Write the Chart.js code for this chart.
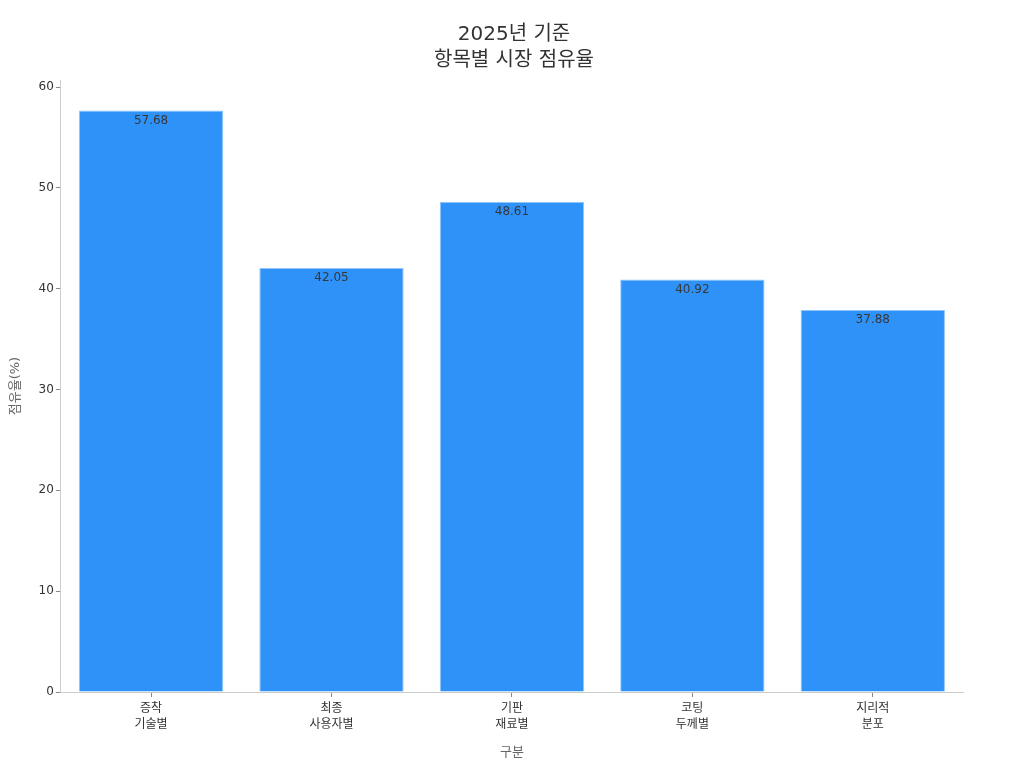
<!DOCTYPE html>
<html lang="ko">
<head>
<meta charset="UTF-8">
<title>항목별 시장 점유율</title>
<style>
  html, body { margin: 0; padding: 0; background: #fff; }
  #wrap { width: 1024px; height: 768px; }
</style>
</head>
<body>
<div id="wrap"><canvas id="myChart"></canvas></div>
<script src="https://cdn.jsdelivr.net/npm/chart.js"></script>
<script>
const categories = [['증착', '기술별'], ['최종', '사용자별'], ['기판', '재료별'], ['코팅', '두께별'], ['지리적', '분포']]
const shares = [57.68, 42.05, 48.61, 40.92, 37.88]
const yTicks = [0, 10, 20, 30, 40, 50, 60]

const fontFamily = "'DejaVu Sans', 'Noto Sans CJK KR', sans-serif"

// value labels just inside the top of each bar
const barLabels = {
  id: 'barLabels',
  afterDatasetsDraw(chart) {
    const ctx = chart.ctx
    const meta = chart.getDatasetMeta(0)
    ctx.save()
    ctx.font = '12px ' + fontFamily
    ctx.fillStyle = '#383838'
    ctx.textAlign = 'center'
    ctx.textBaseline = 'top'
    meta.data.forEach((bar, i) => {
      ctx.fillText(shares[i].toFixed(2), bar.x, bar.y + 4)
    })
    ctx.restore()
  }
}

new Chart(document.querySelector('#myChart'), {
  type: 'bar',
  data: {
    labels: categories,
    datasets: [{
      data: shares,
      backgroundColor: '#2f92f8',
      borderColor: '#8fc5fb',
      borderWidth: 1,
      barPercentage: 0.8,
      categoryPercentage: 1.0
    }]
  },
  options: {
    responsive: true,
    maintainAspectRatio: false,
    animation: false,
    layout: { padding: { left: 4, right: 0, top: 12, bottom: 4 } },
    plugins: {
      legend: { display: false },
      tooltip: { enabled: false },
      title: {
        display: true,
        text: ['2025년 기준', '항목별 시장 점유율'],
        color: '#333',
        font: { family: fontFamily, size: 20, weight: 'normal', lineHeight: 1.3 },
        padding: { top: 10, bottom: 6 }
      }
    },
    scales: {
      x: {
        border: { color: '#ccc' },
        grid: { display: true, offset: false, drawOnChartArea: false, drawTicks: true, tickLength: 5, color: '#888' },
        ticks: { color: '#333', font: { family: fontFamily, size: 12, lineHeight: 1.35 }, padding: 4 },
        title: {
          display: true, text: '구분', color: '#666',
          font: { family: fontFamily, size: 13 }, padding: { top: 7 }
        }
      },
      y: {
        min: 0,
        max: 60.7,
        afterBuildTicks: axis => { axis.ticks = yTicks.map(v => ({ value: v })) },
        border: { color: '#ccc' },
        grid: { display: true, drawOnChartArea: false, drawTicks: true, tickLength: 5, color: '#888' },
        ticks: { color: '#333', font: { family: fontFamily, size: 12 }, padding: 2 },
        title: {
          display: true, text: '점유율(%)', color: '#666',
          font: { family: fontFamily, size: 13 }, padding: { bottom: 13 }
        }
      },
      // empty right axis, only reserves space so the title stays centred on the page
      spacer: {
        position: 'right',
        display: true,
        grid: { display: false },
        border: { display: false },
        ticks: { display: false },
        afterFit: axis => { axis.width = 61 }
      }
    }
  },
  plugins: [barLabels]
})
</script>
</body>
</html>
